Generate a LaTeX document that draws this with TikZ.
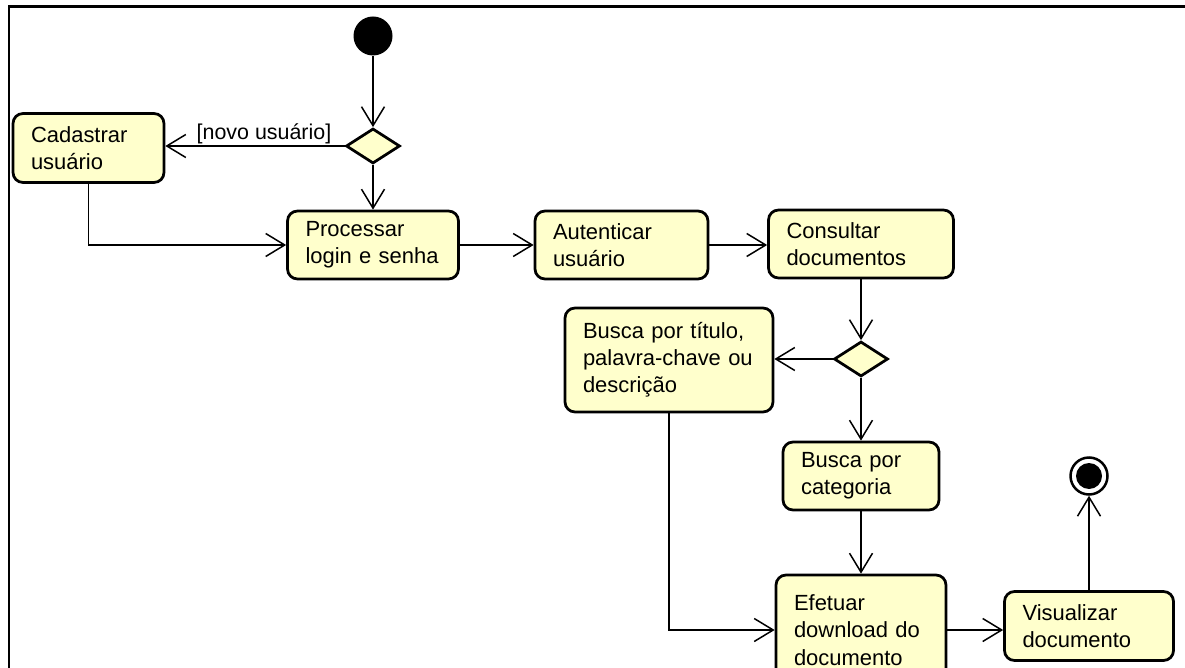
\documentclass[tikz,border=0pt]{standalone}
\usepackage{fontspec}
\setmainfont{Liberation Sans}
\usetikzlibrary{shapes.geometric,arrows.meta}

\definecolor{actfill}{HTML}{FFFFCC}
\tikzset{
  action/.style={draw, line width=0.055cm, rounded corners=0.2cm, fill=actfill,
    align=left, text width=#1, inner xsep=0.36cm, inner ysep=0pt,
    font=\fontsize{12.5}{15.5}\selectfont},
  choice/.style={draw, diamond, line width=0.055cm, fill=actfill,
    minimum width=1.08cm, minimum height=0.7cm, inner sep=0pt},
  flow/.style={line width=0.03cm, -{Straight Barb[length=0.38cm,width=0.46cm]}},
  guard/.style={font=\fontsize{12.2}{14}\selectfont, inner sep=1pt}
}

\begin{document}
\begin{tikzpicture}[x=0.02cm,y=-0.02cm]
            \useasboundingbox (0,0) rectangle (1185,668);

            % Frame around the diagram
            \draw[line width=0.06cm] (9,668) -- (9,7) -- (1185,7);

            % Start and end
            \node[circle, fill=black, minimum size=0.78cm, inner sep=0pt] (start) at (373,36) {};
            \node[circle, draw, line width=0.05cm, fill=white, minimum size=0.74cm, inner sep=0pt,
              path picture={\fill[black] (path picture bounding box.center) circle (0.26cm);}] (finish) at (1089,476) {};

            % Decisions
            \node[choice] (dec1) at (373,146) {};
            \node[choice] (dec2) at (861,359) {};

            % Activities
            \node[action=2.3cm, minimum height=1.38cm] (cadastrar) at (88.5,148) {Cadastrar\\usuário};
            \node[action=2.7cm, minimum height=1.36cm] (processar) at (373,245) {Processar\\login e senha};
            \node[action=2.74cm, minimum height=1.36cm] (autenticar) at (621.5,245) {Autenticar\\usuário};
            \node[action=2.98cm, minimum height=1.36cm] (consultar) at (861,244) {Consultar\\documentos};
            \node[action=3.44cm, minimum height=2.08cm] (titulo) at (669,360) {Busca por título,\\palavra-chave ou\\descrição};
            \node[action=2.4cm, minimum height=1.36cm] (categoria) at (861,476) {Busca por\\categoria};
            \node[action=2.68cm, minimum height=2.2cm] (efetuar) at (861,630) {Efetuar\\download do\\documento};
            \node[action=2.66cm, minimum height=1.38cm] (visualizar) at (1089,626) {Visualizar\\documento};

            % Flows
            \draw[flow] (start) -- (dec1);
            \draw[flow] (dec1) -- node[guard, above, pos=0.45] {[novo usuário]} (dec1 -| cadastrar.east);
            \draw[flow] (dec1) -- (processar);
            \draw[flow] (cadastrar.south) |- (processar.west);
            \draw[flow] (processar) -- (autenticar);
            \draw[flow] (autenticar) -- (autenticar -| consultar.west);
            \draw[flow] (consultar) -- (dec2);
            \draw[flow] (dec2) -- (dec2 -| titulo.east);
            \draw[flow] (dec2) -- (categoria);
            \draw[flow] (categoria) -- (efetuar);
            \draw[flow] (titulo.south) |- (efetuar.west);
            \draw[flow] (efetuar.east) -- (efetuar.east -| visualizar.west);
            \draw[flow] (visualizar) -- (finish);
        \end{tikzpicture}
\end{document}
